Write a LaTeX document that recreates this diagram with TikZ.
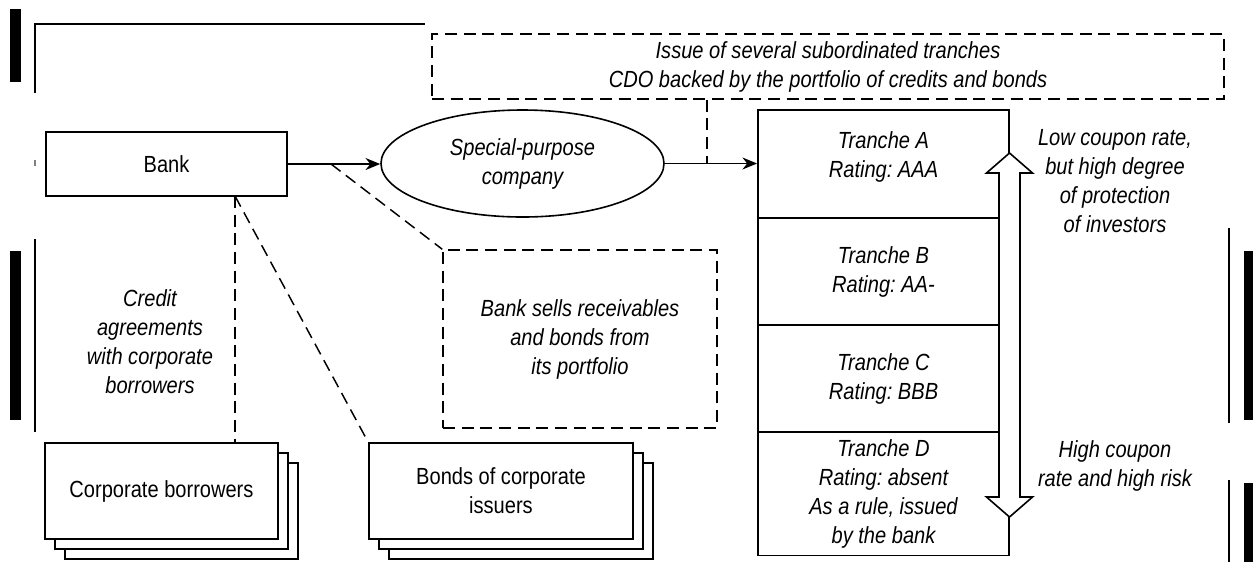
\documentclass[tikz,border=0pt]{standalone}
\usepackage{fontspec}
\setmainfont{Liberation Sans}[FakeStretch=0.86]
\frenchspacing
\usetikzlibrary{arrows.meta,shapes.geometric,shadows}
\tikzset{
  box/.style={draw, line width=1.2pt, fill=white, inner sep=0pt, align=center,
    font=\fontsize{17.5}{21.75}\selectfont},
  dbox/.style={draw, line width=1.1pt, dash pattern=on 9pt off 5pt, inner sep=0pt},
  note/.style={align=center, font=\fontsize{17.5}{21.75}\selectfont\itshape},
  tranche/.style={box, note, line width=1.4pt, minimum width=188.25pt},
  link/.style={line width=1.1pt, dash pattern=on 9pt off 5pt},
  flow/.style={line width=1.2pt, -{Stealth[length=11pt,width=9pt]}},
  scan/.style={line width=0.8pt}
}
\begin{document}
\begin{tikzpicture}[x=0.75pt,y=-0.75pt]
\useasboundingbox (0,0) rectangle (1253,562);
% scanner marks at the page edges
\fill (10,9) rectangle (21,82);
\draw[scan] (35,93) -- (35,24) -- (425,24);
\fill (10,251) rectangle (21,420);
\draw[scan] (35,239) -- (35,432);
\draw[scan,gray] (35,160) -- (35,166);
\draw[scan] (1229,228) -- (1229,423);
\fill (1244,251) rectangle (1253,420);
\draw[scan] (1229,480) -- (1229,562);
\fill (1244,483) rectangle (1253,562);

% top
\node[dbox, note, minimum width=594pt, minimum height=48.75pt] (issue) at (828,66.5)
  {Issue of several subordinated tranches\\CDO backed by the portfolio of credits and bonds};

\node[box, minimum width=180.75pt, minimum height=48pt] (bank) at (166.5,164) {Bank};
\node[box, note, ellipse, minimum width=212.25pt, minimum height=80.25pt] (spv) at (522.5,163.5)
  {Special-purpose\\company};

% tranches
\node[tranche, minimum height=81pt, text depth=13.5pt] (tranA) at (883.5,164) {Tranche A\\Rating: AAA};
\node[tranche, minimum height=80.25pt] (tranB) at (883.5,271.5) {Tranche B\\Rating: AA-};
\node[tranche, minimum height=80.25pt] (tranC) at (883.5,378.5) {Tranche C\\Rating: BBB};
\node[tranche, minimum height=92.25pt] (tranD) at (883.5,494)
  {Tranche D\\Rating: absent\\As a rule, issued\\by the bank};

% risk arrow over the right edge of the tranches
\draw[line width=1.2pt, fill=white] (1009.5,153) -- (1032.5,173) -- (1020,173) -- (1020,497)
  -- (1032.5,497) -- (1009.5,517) -- (986.5,497) -- (999,497) -- (999,173) -- (986.5,173) -- cycle;

\node[note] (lowrate) at (1115,181) {Low coupon rate,\\but high degree\\of protection\\of investors};
\node[note] (highrate) at (1115,466) {High coupon\\rate and high risk};

% sale of assets
\node[dbox, note, minimum width=205.5pt, minimum height=133.5pt] (sells) at (580,339)
  {Bank sells receivables\\and bonds from\\its portfolio};
\node[note] (credit) at (150,342) {Credit\\agreements\\with corporate\\borrowers};

\node[box, minimum width=174.75pt, minimum height=72pt,
  double copy shadow={shadow xshift=7.5pt, shadow yshift=-7.5pt}] (corp) at (161.5,491)
  {Corporate borrowers};
\node[box, minimum width=198pt, minimum height=72pt,
  double copy shadow={shadow xshift=7.5pt, shadow yshift=-7.5pt}] (bonds) at (501,491)
  {Bonds of corporate\\issuers};

% connectors
\draw[flow] (bank.east) -- (bank.east -| spv.west);
\draw[flow] (spv.east) -- (spv.east -| tranA.west);
\coordinate (joint) at (707,164);
\draw[link] (issue.south -| joint) -- (joint);
\coordinate (fork) at (331,164);
\draw[link] (fork) -- (sells.north west);
\coordinate (bankfoot) at (235,196);
\draw[link] (bankfoot) -- (bankfoot |- corp.north);
\draw[link] (bankfoot) -- (bonds.north west);
\end{tikzpicture}
\end{document}
